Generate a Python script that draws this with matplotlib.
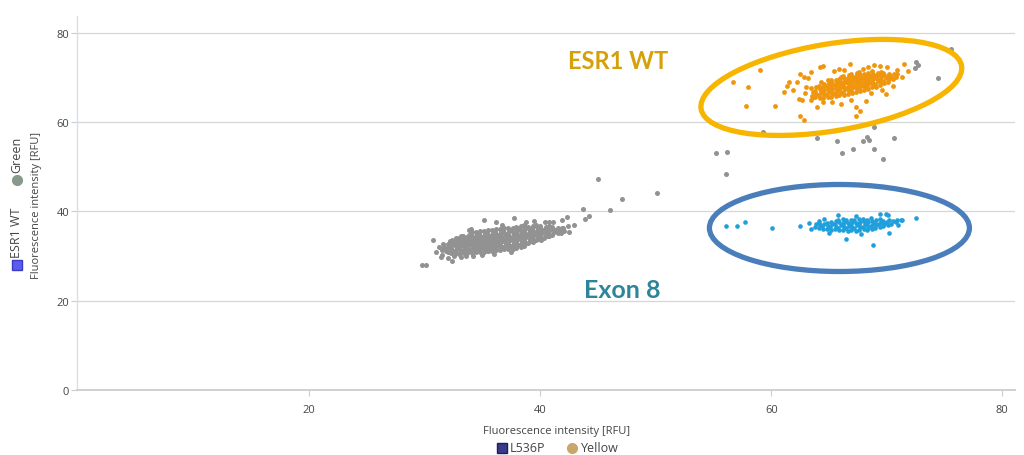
import matplotlib
matplotlib.use("Agg")
import matplotlib.pyplot as plt
from matplotlib.patches import Ellipse
from matplotlib.lines import Line2D
from matplotlib.transforms import ScaledTranslation

plt.rcParams['font.family'] = ['Open Sans', 'DejaVu Sans']

# ---------------- data ----------------
x_ticks = [20, 40, 60, 80]
y_ticks = [0, 20, 40, 60, 80]

gray_pts = [
    (31.5,31.4),(31.7,32.0),(31.6,32.7),(31.8,31.1),
    (32.0,30.9),(31.9,31.6),(32.1,32.2),(32.0,32.8),(32.2,33.3),
    (32.3,30.7),(32.4,31.3),(32.3,31.9),(32.4,32.5),(32.3,33.0),(32.4,33.6),
    (32.7,30.6),(32.6,31.2),(32.8,31.8),(32.7,32.3),(32.6,32.9),(32.8,33.5),(32.7,34.0),
    (33.0,30.5),(33.1,31.1),(33.0,31.7),(33.1,32.2),(33.0,32.8),(33.1,33.4),(33.0,34.0),(33.1,34.4),
    (33.4,30.6),(33.3,31.2),(33.5,31.8),(33.4,32.3),(33.3,32.9),(33.5,33.5),(33.4,34.1),(33.3,34.6),
    (33.7,30.7),(33.8,31.3),(33.7,31.9),(33.8,32.4),(33.7,33.0),(33.8,33.6),(33.7,34.2),(33.8,34.8),
    (34.1,30.8),(34.0,31.4),(34.2,32.0),(34.1,32.5),(34.0,33.1),(34.2,33.7),(34.1,34.3),(34.0,34.9),(34.1,35.3),
    (34.4,30.9),(34.5,31.5),(34.4,32.1),(34.5,32.6),(34.4,33.2),(34.5,33.8),(34.4,34.4),(34.5,35.0),(34.4,35.5),
    (34.8,30.9),(34.7,31.5),(34.9,32.1),(34.8,32.7),(34.7,33.3),(34.9,33.9),(34.8,34.5),(34.7,35.1),(34.8,35.6),
    (35.1,31.0),(35.2,31.6),(35.1,32.2),(35.2,32.8),(35.1,33.4),(35.2,34.0),(35.1,34.6),(35.2,35.2),(35.1,35.7),
    (35.5,31.1),(35.4,31.7),(35.6,32.3),(35.5,32.9),(35.4,33.5),(35.6,34.1),(35.5,34.7),(35.4,35.3),(35.5,35.8),
    (35.8,31.2),(35.9,31.8),(35.8,32.4),(35.9,33.0),(35.8,33.6),(35.9,34.2),(35.8,34.8),(35.9,35.4),(35.8,35.9),
    (36.2,31.3),(36.1,31.9),(36.3,32.5),(36.2,33.1),(36.1,33.7),(36.3,34.3),(36.2,34.9),(36.1,35.5),(36.2,36.0),
    (36.5,31.4),(36.6,32.0),(36.5,32.6),(36.6,33.2),(36.5,33.8),(36.6,34.4),(36.5,35.0),(36.6,35.6),(36.5,36.1),
    (36.9,31.5),(36.8,32.1),(37.0,32.7),(36.9,33.3),(36.8,33.9),(37.0,34.5),(36.9,35.1),(36.8,35.7),(36.9,36.2),
    (37.2,31.6),(37.3,32.2),(37.2,32.8),(37.3,33.4),(37.2,34.0),(37.3,34.6),(37.2,35.2),(37.3,35.8),(37.2,36.3),
    (37.6,31.7),(37.5,32.3),(37.7,32.9),(37.6,33.5),(37.5,34.1),(37.7,34.7),(37.6,35.3),(37.5,35.9),(37.6,36.4),
    (37.9,31.9),(38.0,32.5),(37.9,33.1),(38.0,33.7),(37.9,34.3),(38.0,34.9),(37.9,35.5),(38.0,36.1),(37.9,36.6),
    (38.3,32.0),(38.2,32.6),(38.4,33.2),(38.3,33.8),(38.2,34.4),(38.4,35.0),(38.3,35.6),(38.2,36.2),(38.3,36.7),
    (38.6,32.2),(38.7,32.8),(38.6,33.4),(38.7,34.0),(38.6,34.6),(38.7,35.2),(38.6,35.8),(38.7,36.4),(38.6,36.9),
    (38.9,33.0),(39.1,33.6),(39.0,34.2),(38.9,34.8),(39.1,35.4),(39.0,36.0),(38.9,36.6),
    (39.4,33.2),(39.3,33.8),(39.4,34.4),(39.3,35.0),(39.4,35.6),(39.3,36.2),(39.4,36.8),
    (39.6,33.5),(39.8,34.1),(39.7,34.7),(39.6,35.3),(39.8,35.9),(39.7,36.5),(39.6,37.0),
    (40.1,33.7),(40.0,34.3),(40.1,34.9),(40.0,35.5),(40.1,36.1),(40.0,36.7),
    (40.3,34.1),(40.5,34.7),(40.4,35.3),(40.3,35.9),(40.5,36.5),
    (40.8,34.4),(40.7,35.0),(40.8,35.6),(40.7,36.2),(40.8,36.7),
    (41.0,34.8),(41.2,35.4),(41.1,36.0),(41.0,36.6),
    (41.5,35.2),(41.4,35.8),(41.5,36.4),
    (41.8,35.2),(41.7,35.8),(41.9,36.3),
    (42.1,35.7),(42.0,36.4),
    # in-between fill of the dense core
    (33.55,31.5),(33.55,32.6),(33.55,33.8),(34.25,31.7),(34.25,32.9),(34.25,34.0),
    (34.95,31.8),(34.95,33.0),(34.95,34.2),(35.65,32.0),(35.65,33.2),(35.65,34.4),
    (36.35,32.2),(36.35,33.4),(36.35,34.6),(37.05,32.4),(37.05,33.6),(37.05,34.8),
    (37.75,32.6),(37.75,33.8),(37.75,35.0),(38.45,32.9),(38.45,34.1),(38.45,35.3),
    (39.15,33.3),(39.15,34.5),(39.15,35.7),(39.85,33.9),(39.85,35.0),(39.85,36.2),
    (40.55,34.4),(40.55,35.6),
    # fringe
    (31.2,32.1),(30.7,33.6),(31.0,31.0),(32.4,29.0),(32.5,30.1),(33.1,29.8),(33.6,30.0),
    (34.2,30.1),(35.0,30.2),(36.0,30.5),(37.5,30.9),(34.0,36.0),(35.1,38.0),(36.2,37.6),
    (37.7,38.6),(38.8,37.6),(39.5,37.8),(40.4,37.6),(40.8,37.6),(41.1,37.6),(41.9,38.2),
    (42.3,38.7),(42.4,36.8),(42.9,37.0),(42.5,35.5),(29.8,28.1),(30.1,28.1),(31.5,30.2),
    (33.8,35.8),(36.7,36.9),(32.0,29.6),(31.4,29.9),(33.3,30.9),(35.5,31.2),
    # scattered
    (43.7,40.6),(43.9,38.3),(44.2,38.9),(45.0,47.3),(46.0,40.4),(47.1,42.7),(50.1,44.1),
    (55.2,53.1),(56.2,53.4),(56.1,48.4),(59.3,57.9),(64.0,56.5),(65.7,55.9),(66.1,53.1),
    (67.1,54.0),(67.9,55.8),(68.3,56.7),(68.5,56.1),(68.9,58.9),(68.9,54.0),(69.7,51.8),
    (70.6,56.5),(72.5,73.5),(72.7,72.9),(72.4,72.1),(74.4,69.9),(75.6,76.3),
]

orange_pts = [
    (63.5,65.8),(63.6,66.7),(63.4,67.6),
    (63.8,65.6),(63.9,66.3),(63.8,67.0),(63.9,67.8),
    (64.2,65.4),(64.1,66.1),(64.3,66.7),(64.2,67.4),(64.1,68.2),(64.3,69.0),
    (64.5,65.5),(64.6,66.1),(64.5,66.7),(64.6,67.3),(64.5,67.9),(64.6,68.6),
    (64.9,65.6),(64.8,66.3),(65.0,66.9),(64.9,67.5),(64.8,68.1),(65.0,68.8),(64.9,69.5),
    (65.2,65.7),(65.3,66.3),(65.2,66.9),(65.3,67.5),(65.2,68.1),(65.3,68.7),(65.2,69.4),
    (65.6,65.9),(65.5,66.5),(65.7,67.1),(65.6,67.7),(65.5,68.3),(65.7,68.9),(65.6,69.5),
    (65.9,66.0),(66.0,66.6),(65.9,67.2),(66.0,67.8),(65.9,68.4),(66.0,69.0),(65.9,69.6),(66.0,70.2),
    (66.3,66.2),(66.2,66.8),(66.4,67.4),(66.3,68.0),(66.2,68.6),(66.4,69.2),(66.3,69.8),(66.2,70.4),
    (66.6,66.4),(66.7,67.0),(66.6,67.6),(66.7,68.2),(66.6,68.8),(66.7,69.4),(66.6,70.0),(66.7,70.6),
    (67.0,66.6),(66.9,67.2),(67.1,67.8),(67.0,68.4),(66.9,69.0),(67.1,69.6),(67.0,70.2),(66.9,70.8),
    (67.3,66.8),(67.4,67.4),(67.3,68.0),(67.4,68.6),(67.3,69.2),(67.4,69.8),(67.3,70.4),(67.4,71.0),
    (67.7,67.0),(67.6,67.6),(67.8,68.2),(67.7,68.8),(67.6,69.4),(67.8,70.0),(67.7,70.6),(67.6,71.2),
    (68.0,67.3),(68.1,67.9),(68.0,68.5),(68.1,69.1),(68.0,69.7),(68.1,70.3),(68.0,70.9),
    (68.4,67.5),(68.3,68.1),(68.5,68.7),(68.4,69.3),(68.3,69.9),(68.5,70.5),(68.4,71.1),
    (68.7,67.8),(68.8,68.4),(68.7,69.0),(68.8,69.6),(68.7,70.2),(68.8,70.8),(68.7,71.4),
    (69.1,68.0),(69.0,68.6),(69.2,69.2),(69.1,69.8),(69.0,70.4),(69.2,71.0),
    (69.4,68.3),(69.5,68.9),(69.4,69.5),(69.5,70.1),(69.4,70.7),(69.5,71.3),
    (69.8,68.7),(69.7,69.3),(69.9,69.9),(69.8,70.5),(69.7,71.1),
    (70.1,69.1),(70.2,69.7),(70.1,70.3),(70.2,70.9),
    (70.5,69.6),(70.4,70.2),(70.6,70.8),
    (70.8,70.2),(70.9,70.9),
    # in-between fill of the dense core
    (65.75,67.4),(65.75,68.6),(66.45,67.7),(66.45,68.9),(67.15,68.1),(67.15,69.3),
    (67.85,68.5),(67.85,69.7),(68.55,69.0),(68.55,70.1),(69.25,69.5),(69.25,70.6),
    # sparse
    (60.3,63.6),(61.1,66.7),(61.4,68.2),(61.5,69.0),(62.5,61.5),(62.8,60.4),(62.4,65.2),
    (62.7,64.9),(62.5,70.9),(62.8,70.1),(63.4,71.2),(64.2,72.3),(64.5,72.7),(66.8,73.1),
    (68.9,72.9),(69.4,72.7),(71.5,73.1),(67.3,63.4),(67.7,62.6),(67.3,61.5),(66.0,64.1),
    (64.5,64.5),(63.7,65.6),(63.4,64.9),(56.7,69.0),(59.0,71.6),(58.0,68.0),(57.8,63.7),
    (61.9,67.3),(62.2,68.9),(63.0,67.9),(63.2,69.8),(65.4,71.5),(65.9,72.0),(67.9,72.0),
    (70.0,72.3),(70.9,71.8),(71.3,70.1),(70.5,68.1),(69.6,67.2),(68.6,66.5),(68.2,64.8),
    (66.9,65.0),(65.3,64.6),(64.0,63.5),(62.9,66.5),(66.3,71.6),(68.4,72.3),(69.9,66.4),
    (71.8,71.5),
]

blue_pts = [
    (63.8,36.5),(63.9,37.1),
    (64.1,36.2),(64.2,36.9),(64.1,37.5),
    (64.5,36.0),(64.4,36.7),(64.6,37.3),
    (64.8,36.1),(64.9,36.8),(64.8,37.4),
    (65.2,35.9),(65.1,36.5),(65.3,37.1),(65.2,37.7),
    (65.5,36.0),(65.6,36.6),(65.5,37.2),(65.6,37.8),
    (65.9,35.8),(65.8,36.4),(66.0,37.0),(65.9,37.6),(65.8,38.1),
    (66.2,35.9),(66.3,36.5),(66.2,37.1),(66.3,37.7),(66.2,38.3),
    (66.6,35.6),(66.5,36.2),(66.7,36.8),(66.6,37.4),(66.5,38.0),
    (66.9,35.8),(67.0,36.4),(66.9,37.0),(67.0,37.6),(66.9,38.2),
    (67.3,35.7),(67.2,36.3),(67.4,36.9),(67.3,37.5),(67.2,38.1),
    (67.6,35.9),(67.7,36.5),(67.6,37.1),(67.7,37.7),(67.6,38.3),
    (68.0,36.0),(67.9,36.6),(68.1,37.2),(68.0,37.8),(67.9,38.4),
    (68.3,35.8),(68.4,36.4),(68.3,37.0),(68.4,37.6),(68.3,38.2),
    (68.7,36.1),(68.6,36.7),(68.8,37.3),(68.7,37.9),(68.6,38.5),
    (69.0,36.3),(69.1,36.9),(69.0,37.5),(69.1,38.1),
    (69.4,36.5),(69.3,37.1),(69.5,37.7),(69.4,38.3),
    (69.7,36.7),(69.8,37.3),(69.7,37.9),
    (70.1,37.0),(70.0,37.6),(70.2,38.2),
    (70.4,37.3),(70.5,37.9),
    (70.8,37.6),(70.9,38.2),
    (71.2,38.0),
    # sparse
    (56.1,36.8),(57.0,36.8),(57.7,37.6),(60.1,36.4),(62.5,36.7),(63.3,37.4),(64.1,37.9),
    (65.8,39.2),(66.5,33.9),(68.8,32.4),(70.2,35.1),(69.4,39.5),(69.9,39.5),(70.1,39.3),
    (72.5,38.5),(71.3,38.0),(65.0,35.2),(67.8,34.9),(63.4,36.0),(64.6,38.4),(67.3,39.0),
    (71.0,36.9),
]

gray_x, gray_y = zip(*gray_pts)
orange_x, orange_y = zip(*orange_pts)
blue_x, blue_y = zip(*blue_pts)

# ---------------- figure ----------------
W, H = 1024, 456
fig = plt.figure(figsize=(W / 100, H / 100), dpi=100)
ax = fig.add_axes([77 / W, 1 - 391 / H, (1015 - 77) / W, (391 - 17) / H])
ax.set_xlim(-0.1, 81.1)
ax.set_ylim(0, 83.8)

ax.set_xticks(x_ticks)
ax.set_yticks(y_ticks)
ax.tick_params(axis='both', labelsize=8, labelcolor='#444444', color='#c8ccd4', length=4, width=0.8)
ax.tick_params(axis='x', pad=6)
ax.tick_params(axis='y', pad=1.5)
ax.grid(axis='y', color='#d6d6d6', linewidth=0.9)
ax.set_axisbelow(True)
for s in ['top', 'right']:
    ax.spines[s].set_visible(False)
ax.spines['left'].set_color('#d9dee7')
ax.spines['left'].set_linewidth(1.0)
ax.spines['bottom'].set_color('#cfcfcf')
ax.spines['bottom'].set_linewidth(1.4)

ax.scatter(gray_x, gray_y, s=13, color='#929292', linewidths=0, zorder=3)
ax.scatter(orange_x, orange_y, s=12, color='#f0960e', linewidths=0, zorder=4)
ax.scatter(blue_x, blue_y, s=11, color='#1fa0dc', linewidths=0, zorder=4)

# annotation ellipses (sizes in inches, centred in data coords)
e1 = Ellipse((0, 0), 2.64, 0.87, angle=9.4, fill=False, edgecolor='#f7b500', linewidth=3.8,
             transform=fig.dpi_scale_trans + ScaledTranslation(65.2, 67.8, ax.transData), zorder=5)
e2 = Ellipse((0, 0), 2.60, 0.87, angle=0, fill=False, edgecolor='#4a7ebb', linewidth=3.8,
             transform=fig.dpi_scale_trans + ScaledTranslation(65.9, 36.3, ax.transData), zorder=5)
ax.add_patch(e1)
ax.add_patch(e2)

ax.text(46.75, 73.8, 'ESR1 WT', color='#d6a00a', fontsize=17, fontweight='bold',
        family=['Lato', 'DejaVu Sans'], ha='center', va='center', zorder=6)
ax.text(47.1, 22.6, 'Exon 8', color='#2e8599', fontsize=18, fontweight='bold',
        family=['Lato', 'DejaVu Sans'], ha='center', va='center', zorder=6)

# axis titles
fig.text(557 / W, 1 - 432 / H, 'Fluorescence intensity [RFU]', fontsize=8, color='#444444',
         ha='center', va='center')
fig.text(37 / W, 1 - 205 / H, 'Fluorescence intensity [RFU]', fontsize=8, color='#444444',
         ha='center', va='center', rotation=90)

# bottom legend
lg = 9
fig.add_artist(Line2D([502 / W], [1 - 449 / H], transform=fig.transFigure, marker='s', markersize=7,
                      markerfacecolor='#3a3a8c', markeredgecolor='#1e1e5a', linestyle='none'))
fig.text(510 / W, 1 - 449 / H, 'L536P', fontsize=lg, color='#444444', ha='left', va='center')
fig.add_artist(Line2D([572 / W], [1 - 449 / H], transform=fig.transFigure, marker='o', markersize=7,
                      markerfacecolor='#c9a66b', markeredgecolor='#c9a66b', linestyle='none'))
fig.text(581 / W, 1 - 449 / H, 'Yellow', fontsize=lg, color='#444444', ha='left', va='center')

# left (rotated) legend
fig.add_artist(Line2D([17 / W], [1 - 266 / H], transform=fig.transFigure, marker='s', markersize=7,
                      markerfacecolor='#5b5cf0', markeredgecolor='#3c3cc0', linestyle='none'))
fig.text(17 / W, 1 - 258 / H, 'ESR1 WT', fontsize=lg, color='#444444', ha='center', va='bottom', rotation=90)
fig.add_artist(Line2D([17 / W], [1 - 181 / H], transform=fig.transFigure, marker='o', markersize=7,
                      markerfacecolor='#879a8c', markeredgecolor='#879a8c', linestyle='none'))
fig.text(17 / W, 1 - 173 / H, 'Green', fontsize=lg, color='#444444', ha='center', va='bottom', rotation=90)

fig.savefig('out.png', dpi=100)
